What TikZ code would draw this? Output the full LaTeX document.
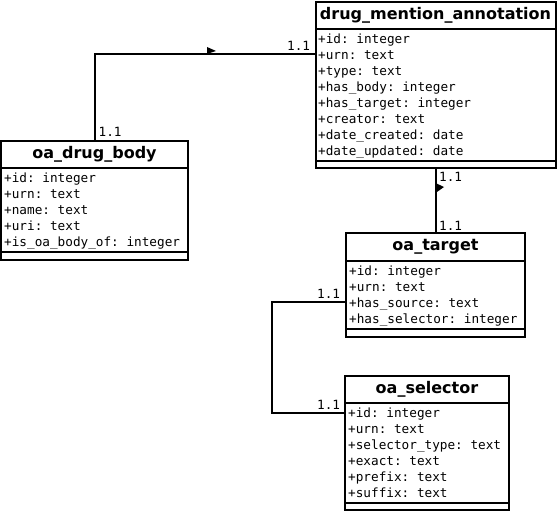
\documentclass[tikz,border=0pt]{standalone}
\usepackage{fontspec}
\setmainfont{DejaVu Sans}
\setmonofont{DejaVu Sans Mono}
\usetikzlibrary{calc}

\begin{document}
\begin{tikzpicture}[x=1pt, y=-1pt,
  classtitle/.style={draw, line width=2pt, inner sep=0pt, outer sep=0pt, font=\fontsize{16}{16}\selectfont\bfseries},
  part/.style={draw, line width=2pt, inner sep=0pt, outer sep=0pt, anchor=north},
  attr/.style={anchor=base west, inner sep=0pt, font=\fontsize{12.7}{16}\selectfont\ttfamily},
  mult/.style={anchor=base west, inner sep=0pt, font=\fontsize{12.7}{16}\selectfont\ttfamily},
  assoc/.style={line width=2pt},
  dir/.style={fill=black}]

\useasboundingbox[fill=white] (0,0) rectangle (559,513);

% drug_mention_annotation
\node[classtitle, minimum width=240pt, minimum height=27pt] (dma) at (435.5,15.5) {drug\_mention\_annotation};
\node[part, minimum width=240pt, minimum height=132pt] (dmaattr) at (dma.south) {};
\node[part, minimum width=240pt, minimum height=7pt] (dmaops) at (dmaattr.south) {};
\foreach \a [count=\i] in {+id: integer, +urn: text, +type: text, +has\_body: integer,
  +has\_target: integer, +creator: text, +date\_created: date, +date\_updated: date}
  {\node[attr] (dmaa\i) at (318, 27.5+16*\i) {\a};}

% oa_drug_body
\node[classtitle, minimum width=187pt, minimum height=27pt] (body) at (94.5,154.5) {oa\_drug\_body};
\node[part, minimum width=187pt, minimum height=84pt] (bodyattr) at (body.south) {};
\node[part, minimum width=187pt, minimum height=8pt] (bodyops) at (bodyattr.south) {};
\foreach \a [count=\i] in {+id: integer, +urn: text, +name: text, +uri: text, +is\_oa\_body\_of: integer}
  {\node[attr] (bodya\i) at (4, 166.5+16*\i) {\a};}

% oa_target
\node[classtitle, minimum width=179pt, minimum height=28pt] (target) at (435.5,247) {oa\_target};
\node[part, minimum width=179pt, minimum height=68pt] (targetattr) at (target.south) {};
\node[part, minimum width=179pt, minimum height=8pt] (targetops) at (targetattr.south) {};
\foreach \a [count=\i] in {+id: integer, +urn: text, +has\_source: text, +has\_selector: integer}
  {\node[attr] (targeta\i) at (349, 259.5+16*\i) {\a};}

% oa_selector
\node[classtitle, minimum width=164pt, minimum height=27pt] (sel) at (427,389.5) {oa\_selector};
\node[part, minimum width=164pt, minimum height=100pt] (selattr) at (sel.south) {};
\node[part, minimum width=164pt, minimum height=7pt] (selops) at (selattr.south) {};
\foreach \a [count=\i] in {+id: integer, +urn: text, +selector\_type: text, +exact: text,
  +prefix: text, +suffix: text}
  {\node[attr] (sela\i) at (348, 401.5+16*\i) {\a};}

% associations
\coordinate (dmain) at (315.5,54);
\coordinate (tgtin) at (346,302);
\coordinate (selin) at (345,413);
\draw[assoc] (body.north) |- (dmain);
\draw[assoc] (dmaops.south) -- (target.north);
\draw[assoc] (tgtin) -- ++(-74,0) |- (selin);
\fill[dir] (207,47) -- (207,54) -- (216,51) -- cycle;
\fill[dir] (435.5,183) -- (435.5,193) -- (444,187) -- cycle;

\node[mult] (m1) at (98.5,137) {1.1};
\node[mult] (m2) at (287,51) {1.1};
\node[mult] (m3) at (439,182) {1.1};
\node[mult] (m4) at (439,230) {1.1};
\node[mult] (m5) at (317,298.5) {1.1};
\node[mult] (m6) at (317,409) {1.1};
\end{tikzpicture}
\end{document}
